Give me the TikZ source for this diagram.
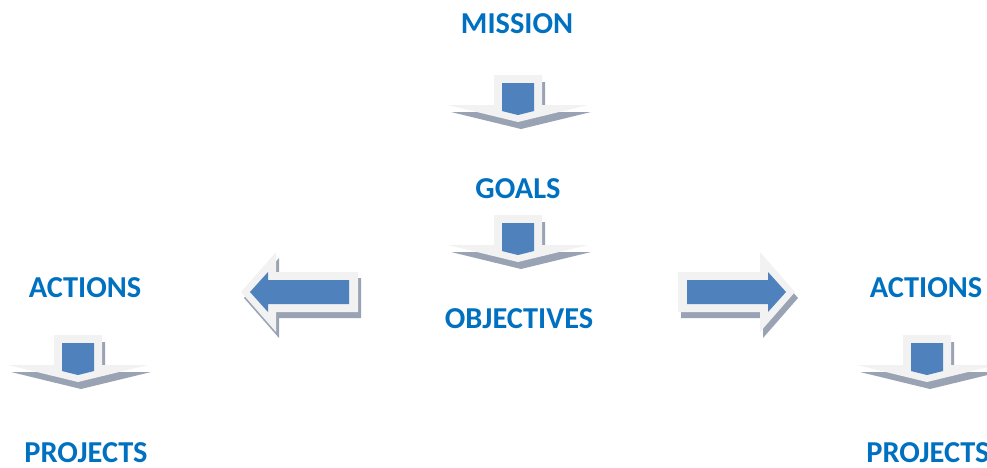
\documentclass[tikz,border=0pt]{standalone}
\usepackage{fontspec}
\setmainfont{Carlito}
\usepackage{tikz}
\definecolor{facegray}{HTML}{F2F2F2}
\definecolor{shadegray}{HTML}{9AA3B4}
\definecolor{coreblue}{HTML}{4F81BD}
\definecolor{titleblue}{HTML}{0070C0}
\def\downpath{(-24,0) -- (24,0) -- (24,30) -- (70,30) -- (0,47) -- (-70,30) -- (-24,30) -- cycle}
\def\sidepath{(0,-20) -- (82,-20) -- (82,-40) -- (117,0) -- (82,40) -- (82,20) -- (0,20) -- cycle}
\def\downblock(#1,#2){%
	\begin{scope}[shift={(#1,#2)}]
		\fill[shadegray, shift={(3,7)}] \downpath;
		\fill[facegray] \downpath;
		\fill[coreblue] (-16,8) -- (16,8) -- (16,36) -- (0,40) -- (-16,36) -- cycle;
	\end{scope}}
\def\sideblock(#1,#2,#3){%
	\begin{scope}[shift={(#1,#2)}]
		\begin{scope}[shift={(3,6)}, xscale=#3] \fill[shadegray] \sidepath; \end{scope}
		\begin{scope}[xscale=#3]
			\fill[facegray] \sidepath;
			\fill[coreblue] (9,-12) -- (90,-12) -- (90,-20) -- (108,0) -- (90,20) -- (90,12) -- (9,12) -- cycle;
		\end{scope}
	\end{scope}}

\begin{document}
\begin{tikzpicture}[x=0.02cm, y=-0.02cm,
		title/.style={anchor=base, inner sep=0pt, text=titleblue, font=\fontsize{17.3}{20}\selectfont\bfseries}]
		%%%%% START %%%%%
		
		\clip (0,0) rectangle (987,467);
		
		\node[title] (mission) at (517, 33) {MISSION};
		\downblock(518,75)
		
		\node[title] (goals) at (518, 198) {GOALS};
		\downblock(518,215)
		
		\node[title] (objectives) at (519, 328) {OBJECTIVES};
		
		\sideblock(358,292,-1)
		\sideblock(678,292,1)
		
		\node[title] (actionsleft) at (85, 297) {ACTIONS};
		\downblock(78,335)
		\node[title] (projectsleft) at (86, 462) {PROJECTS};
		
		\node[title] (actionsright) at (926, 297) {ACTIONS};
		\downblock(927,335)
		\node[title] (projectsright) at (928, 462) {PROJECTS};
		
		%%%%% END %%%%%
	\end{tikzpicture}
\end{document}
